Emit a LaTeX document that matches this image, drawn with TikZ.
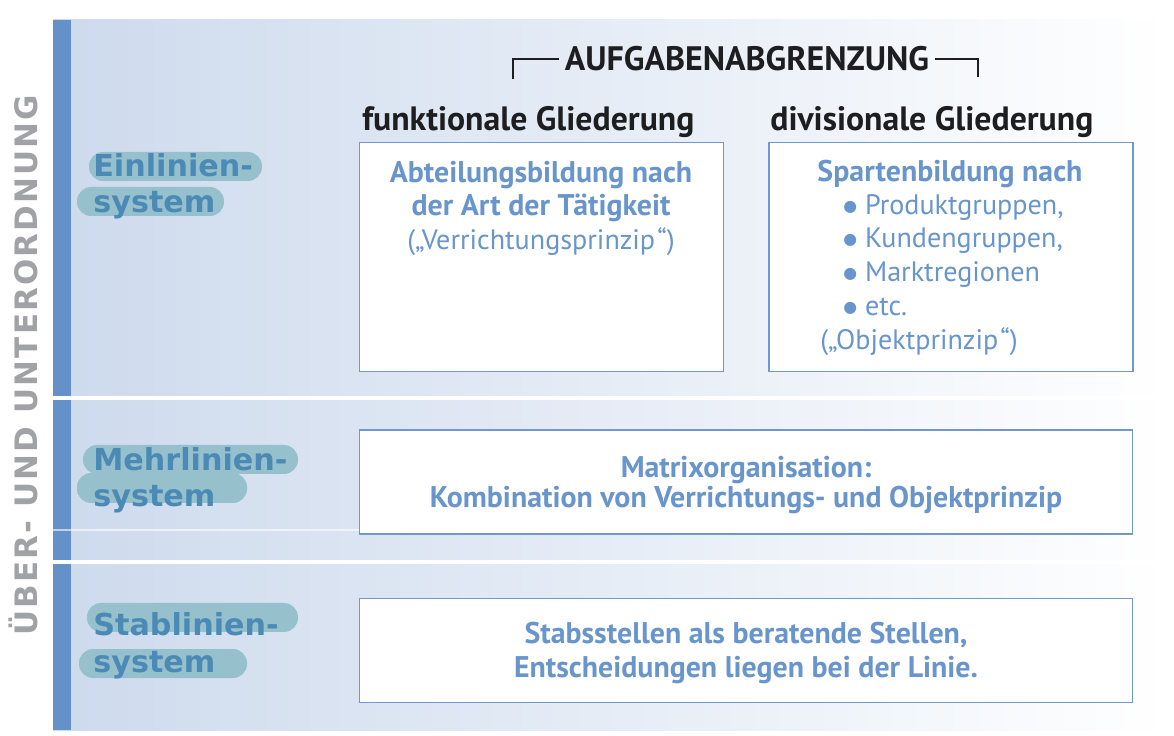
\documentclass[tikz,border=0pt]{standalone}
\usepackage{fontspec}
\setmainfont{PT Sans}
\newfontfamily\labelfont{DejaVu Sans}
\newfontfamily\sidefont[LetterSpace=7]{DejaVu Sans}
\newfontfamily\symfont{DejaVu Sans}
\usepackage{tikz}
\usetikzlibrary{positioning}
\definecolor{barblue}{RGB}{101,145,201}
\definecolor{bgblue}{RGB}{205,218,237}
\definecolor{textblue}{RGB}{104,149,204}
\definecolor{frameblue}{RGB}{112,152,206}
\definecolor{labelblue}{RGB}{76,138,182}
\definecolor{pillteal}{RGB}{150,192,204}
\definecolor{darktext}{RGB}{30,30,32}
\definecolor{sidegray}{RGB}{160,162,166}
\newcommand{\dotitem}{\raisebox{2.2pt}{\symfont\fontsize{9}{9}\selectfont ●}\hspace{0.28em}}

\begin{document}
\begin{tikzpicture}[x=0.02cm, y=-0.02cm,
		box/.style={rectangle, draw=frameblue, fill=white, line width=0.85pt, inner sep=0pt},
		boxtext/.style={font=\fontsize{16}{19}\selectfont, text=textblue, inner sep=0pt, anchor=base},
		boxbold/.style={boxtext, font=\fontsize{17}{20}\selectfont\bfseries},
		headtext/.style={font=\fontsize{19.2}{23}\selectfont\bfseries, text=darktext},
		sysname/.style={font=\labelfont\fontsize{17.2}{21}\selectfont\bfseries, text=labelblue, inner sep=0pt, anchor=base west},
		pill/.style={fill=pillteal, rounded corners=8pt},
		bracket/.style={draw=darktext, line width=1.1pt}]
	
	\useasboundingbox (0,0) rectangle (1174,736);
	
	% background and side bar
	\shade[left color=bgblue, right color=white] (53,20) rectangle (1170,730);
	\fill[barblue] (53,20) rectangle (71,730);
	\draw[white, line width=1.8pt] (53,398) -- (1160,398);
	\draw[white, line width=1.8pt] (53,562) -- (1160,562);
	\draw[white, opacity=0.6, line width=1pt] (53,530) -- (359,530);
	
	\node[font=\sidefont\fontsize{17.6}{21}\selectfont\bfseries, text=sidegray, rotate=90, anchor=base, inner sep=0pt] (ueber) at (37,365) {ÜBER- UND UNTERORDNUNG};
	
	% system labels
	\fill[pill] (89,152) rectangle (262,181);
	\fill[pill] (77,187) rectangle (224,216);
	\node[sysname] (ein1) at (93,177) {Einlinien-};
	\node[sysname] (ein2) at (93,213) {system};
	
	\fill[pill] (83,445) rectangle (298,474);
	\fill[pill] (77,473) rectangle (247,503);
	\node[sysname] (mehr1) at (93,471) {Mehrlinien-};
	\node[sysname] (mehr2) at (93,507) {system};
	
	\fill[pill] (87,603) rectangle (298,632);
	\fill[pill] (79,649) rectangle (247,678);
	\node[sysname] (stab1) at (93,636) {Stablinien-};
	\node[sysname] (stab2) at (93,672) {system};
	
	% header
	\node[headtext, font=\fontsize{19.3}{23}\selectfont\bfseries, anchor=base] (head) at (747,71) {AUFGABENABGRENZUNG};
	\coordinate (bl) at (513,79);
	\coordinate (br) at (978,77);
	\draw[bracket] (bl) |- (head.west);
	\draw[bracket] (head.east) -| (br);
	
	\node[headtext, anchor=base west, inner sep=0pt] (funktitel) at (362,131) {funktionale Gliederung};
	\node[headtext, anchor=base west, inner sep=0pt] (divtitel) at (770,131) {divisionale Gliederung};
	
	% boxes
	\node[box, anchor=north west, minimum width=7.28cm, minimum height=4.58cm] (funk) at (359,142) {};
	\node[box, right=0.88cm of funk, minimum width=7.28cm, minimum height=4.58cm] (div) {};
	\node[box, below=1.14cm of funk.south west, anchor=north west, minimum width=15.46cm, minimum height=2.08cm] (matrix) {};
	\node[box, below=1.26cm of matrix.south west, anchor=north west, minimum width=15.46cm, minimum height=2.08cm] (stab) {};
	
	\node[boxbold] (f1) at (541,183) {Abteilungsbildung nach};
	\node[boxbold] (f2) at (541,216) {der Art der Tätigkeit};
	\node[boxtext] (f3) at (541,250) {(„Verrichtungsprinzip\kern1.2pt“)};
	
	\node[boxbold] (d1) at (950,182) {Spartenbildung nach};
	\foreach \txt/\yy [count=\i] in {{Produktgruppen,}/215, {Kundengruppen,}/248, Marktregionen/282, etc./316}
		\node[boxtext, anchor=base west] (item\i) at (843,\yy) {\dotitem\txt};
	\node[boxtext, anchor=base west] (d2) at (820,350) {(„Objektprinzip\kern1.2pt“)};
	
	\node[boxbold] (m1) at (746,478) {Matrixorganisation:};
	\node[boxbold] (m2) at (746,508) {Kombination von Verrichtungs- und Objektprinzip};
	
	\node[boxbold] (s1) at (746,643) {Stabsstellen als beratende Stellen,};
	\node[boxbold] (s2) at (746,677) {Entscheidungen liegen bei der Linie.};
\end{tikzpicture}
\end{document}
